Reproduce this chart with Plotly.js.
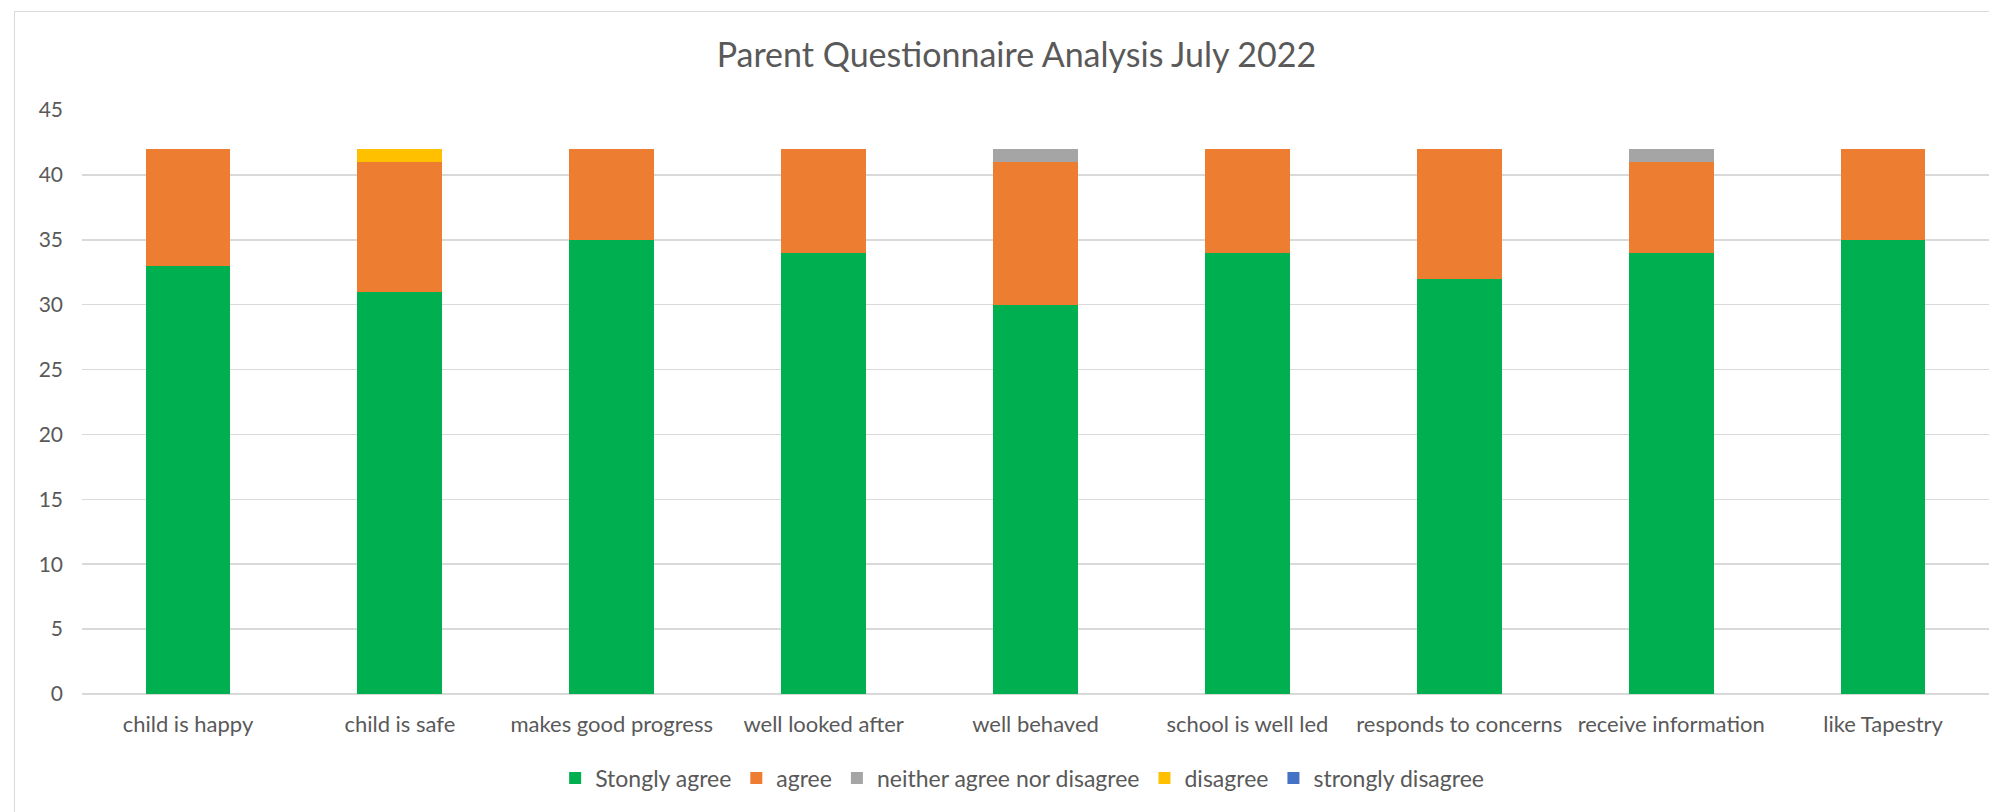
<!DOCTYPE html>
<html>
<head>
<meta charset="utf-8">
<script src="https://cdn.plot.ly/plotly-3.0.1.min.js"></script>
<style>
  html, body { margin: 0; padding: 0; background: #ffffff; overflow: hidden; }
  #chart { width: 1989px; height: 812px; }
  #frame { position: absolute; left: 14px; top: 11px; width: 2100px; height: 900px;
           border: 1.5px solid #d9d9d9; pointer-events: none; }
</style>
</head>
<body>
<div id="chart"></div>
<div id="frame"></div>
<script>
const categories = ["child is happy", "child is safe", "makes good progress", "well looked after",
  "well behaved", "school is well led", "responds to concerns", "receive information", "like Tapestry"];
const stronglyAgree    = [33, 31, 35, 34, 30, 34, 32, 34, 35];
const agree            = [9, 10, 7, 8, 11, 8, 10, 7, 7];
const neither          = [0, 0, 0, 0, 1, 0, 0, 1, 0];
const disagree         = [0, 1, 0, 0, 0, 0, 0, 0, 0];
const stronglyDisagree = [0, 0, 0, 0, 0, 0, 0, 0, 0];
const seriesNames = ["Stongly agree", "agree", "neither agree nor disagree", "disagree", "strongly disagree"];
const seriesColors = ["#00B050", "#ED7D31", "#A5A5A5", "#FFC000", "#4472C4"];
const seriesValues = [stronglyAgree, agree, neither, disagree, stronglyDisagree];
const yTicks = [0, 5, 10, 15, 20, 25, 30, 35, 40, 45];

const FONT = "Lato, 'Open Sans', sans-serif";
const traces = seriesValues.map((vals, i) => ({
  type: "bar",
  name: seriesNames[i],
  x: categories,
  y: vals,
  marker: { color: seriesColors[i], line: { width: 0 } },
  hoverinfo: "x+y+name"
}));

const layout = {
  width: 1989,
  height: 812,
  barmode: "stack",
  bargap: 0.6,
  paper_bgcolor: "#ffffff",
  plot_bgcolor: "#ffffff",
  margin: { l: 82, r: 0, t: 110, b: 118, pad: 0 },
  font: { family: FONT, size: 22, color: "#595959" },
  title: {
    text: "Parent Questionnaire Analysis July 2022",
    font: { family: FONT, size: 34, color: "#595959" },
    x: 0.49, xanchor: "center", xref: "paper",
    y: 56, yref: "container", yanchor: "middle"
  },
  xaxis: {
    type: "category",
    showgrid: false,
    zeroline: false,
    showline: false,
    ticks: "",
    ticklabelstandoff: 15,
    tickfont: { family: FONT, size: 22, color: "#595959" }
  },
  yaxis: {
    range: [0, 45],
    tickvals: yTicks,
    ticktext: yTicks.map(String),
    showgrid: true,
    gridcolor: "#d9d9d9",
    gridwidth: 1.5,
    zeroline: true,
    zerolinecolor: "#d9d9d9",
    zerolinewidth: 1.5,
    showline: false,
    ticks: "",
    ticklabelstandoff: 18,
    tickfont: { family: FONT, size: 21, color: "#595959" }
  },
  showlegend: true,
  legend: {
    orientation: "h",
    x: 0.493, xanchor: "center",
    y: -0.144, yanchor: "middle",
    font: { family: FONT, size: 23, color: "#595959" },
    traceorder: "normal",
    itemclick: false
  }
};

Plotly.newPlot("chart", traces, layout, { displayModeBar: false, staticPlot: true });
</script>
</body>
</html>
